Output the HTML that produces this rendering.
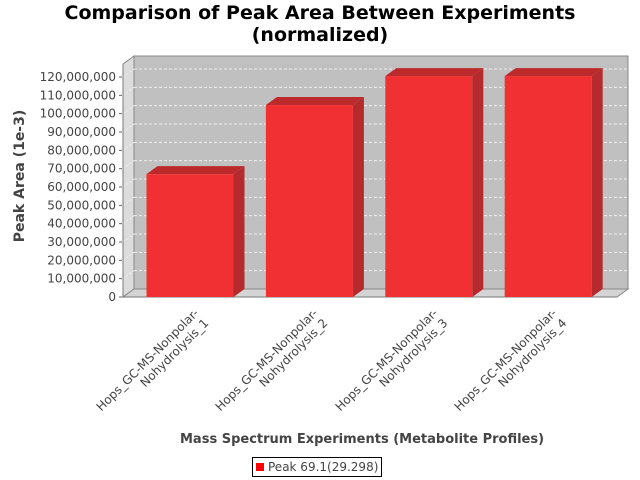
<!DOCTYPE html>
<html><head><meta charset="utf-8"><style>
body{margin:0;background:#fff;font-family:"DejaVu Sans","Liberation Sans",sans-serif}
#wrap{position:relative;width:640px;height:480px;overflow:hidden}
.t{position:absolute;left:0;width:640px;text-align:center;font-weight:bold;font-size:19px;color:#000}
.cl{position:absolute;font-size:12px;color:#444;text-align:right;transform-origin:100% 0;transform:rotate(-45deg);white-space:nowrap;line-height:14px}
</style></head><body>
<div id="wrap">
<div class="t" style="top:2px;line-height:22px">Comparison of Peak Area Between Experiments<br>(normalized)</div>
<svg id="svg" width="640" height="480" style="position:absolute;left:0;top:0"></svg>
<div id="labels"></div>
<div style="position:absolute;left:180px;top:432px;font-size:13px;font-weight:bold;color:#444">Mass Spectrum Experiments (Metabolite Profiles)</div>
<div style="position:absolute;left:252px;top:457px;border:1px solid #000;padding:1px 3px;font-size:12px;color:#444;line-height:16px"><span style="display:inline-block;width:8px;height:8px;background:#f00;margin-right:4px"></span>Peak 69.1(29.298)</div>
</div>
<script>
const categories=["Hops_GC-MS-Nonpolar-\nNohydrolysis_1","Hops_GC-MS-Nonpolar-\nNohydrolysis_2","Hops_GC-MS-Nonpolar-\nNohydrolysis_3","Hops_GC-MS-Nonpolar-\nNohydrolysis_4"];
const values=[67000000,104700000,120500000,120500000];
const ticks=[0,10000000,20000000,30000000,40000000,50000000,60000000,70000000,80000000,90000000,100000000,110000000,120000000];
const NS="http://www.w3.org/2000/svg";
const svg=document.getElementById('svg');
const X0=123,X1=617,Y0=297,YT=64,DX=11,DY=8;
function y(v){return Y0-v*220/120000000;}
function cx(i){return 190+i*119.4;}
function add(tag,attrs,name){const e=document.createElementNS(NS,tag);for(const k in attrs)e.setAttribute(k,attrs[k]);


svg.appendChild(e);return e;}
// walls
add('polygon',{points:`${X0},${YT} ${X0+DX},${YT-DY} ${X0+DX},${Y0-DY} ${X0},${Y0}`,fill:'#dcdcdc',stroke:'#888'},'left-wall');
add('polygon',{points:`${X0},${Y0} ${X0+DX},${Y0-DY} ${X1+DX},${Y0-DY} ${X1},${Y0}`,fill:'#d4d4d4',stroke:'#888'},'floor');
add('rect',{x:X0+DX,y:YT-DY,width:X1-X0,height:Y0-YT,fill:'#c0c0c0',stroke:'#888'},'back-wall');
ticks.forEach(t=>{const yy=y(t);
 if(t>0){add('line',{x1:X0+DX,x2:X1+DX,y1:yy-DY,y2:yy-DY,stroke:'#eee','stroke-dasharray':'3,2','stroke-width':1},'gridline');
 add('line',{x1:X0,x2:X0+DX,y1:yy,y2:yy-DY,stroke:'#eee','stroke-dasharray':'2,2'},'wall-gridline');}
 add('line',{x1:X0-4,x2:X0-1,y1:yy,y2:yy,stroke:'#666'},'y-tick');
 const tx=add('text',{x:X0-7,y:yy+4,'text-anchor':'end','font-size':12,fill:'#444','font-family':'DejaVu Sans, Liberation Sans, sans-serif'},'y-tick-label');tx.textContent=t.toLocaleString('en-US');
});
add('line',{x1:X0,x2:X0,y1:YT,y2:Y0,stroke:'#777'},'y-axis-line');
add('line',{x1:X0,x2:X1,y1:Y0,y2:Y0,stroke:'#777'},'x-axis-line');
const BW=87;
values.forEach((v,i)=>{const l=cx(i)-BW/2,r=l+BW,top=y(v);
 add('polygon',{points:`${r},${top} ${r+DX},${top-DY} ${r+DX},${Y0-DY} ${r},${Y0}`,fill:'#b52b2d'},'bar-side');
 add('polygon',{points:`${l},${top} ${l+DX},${top-DY} ${r+DX},${top-DY} ${r},${top}`,fill:'#bd2a2c'},'bar-top');
 add('rect',{x:l,y:top,width:BW,height:Y0-top,fill:'#f03032'},'bar-'+(i+1));
});
const lab=document.getElementById('labels');
categories.forEach((c,i)=>{const d=document.createElement('div');d.className='cl';
 
 
 d.innerHTML=c.replace('\n','<br>');document.body.appendChild(d);
 const w=d.offsetWidth;d.style.left=(cx(i)+2-w)+'px';d.style.top='306px';
 document.getElementById('wrap').appendChild(d);});
const yt=document.createElement('div');


yt.textContent='Peak Area (1e-3)';
yt.style.cssText='position:absolute;left:20px;top:176px;font-size:14px;font-weight:bold;color:#444;transform:translate(-50%,-50%) rotate(-90deg);white-space:nowrap';
document.getElementById('wrap').appendChild(yt);
</script>
</body></html>
